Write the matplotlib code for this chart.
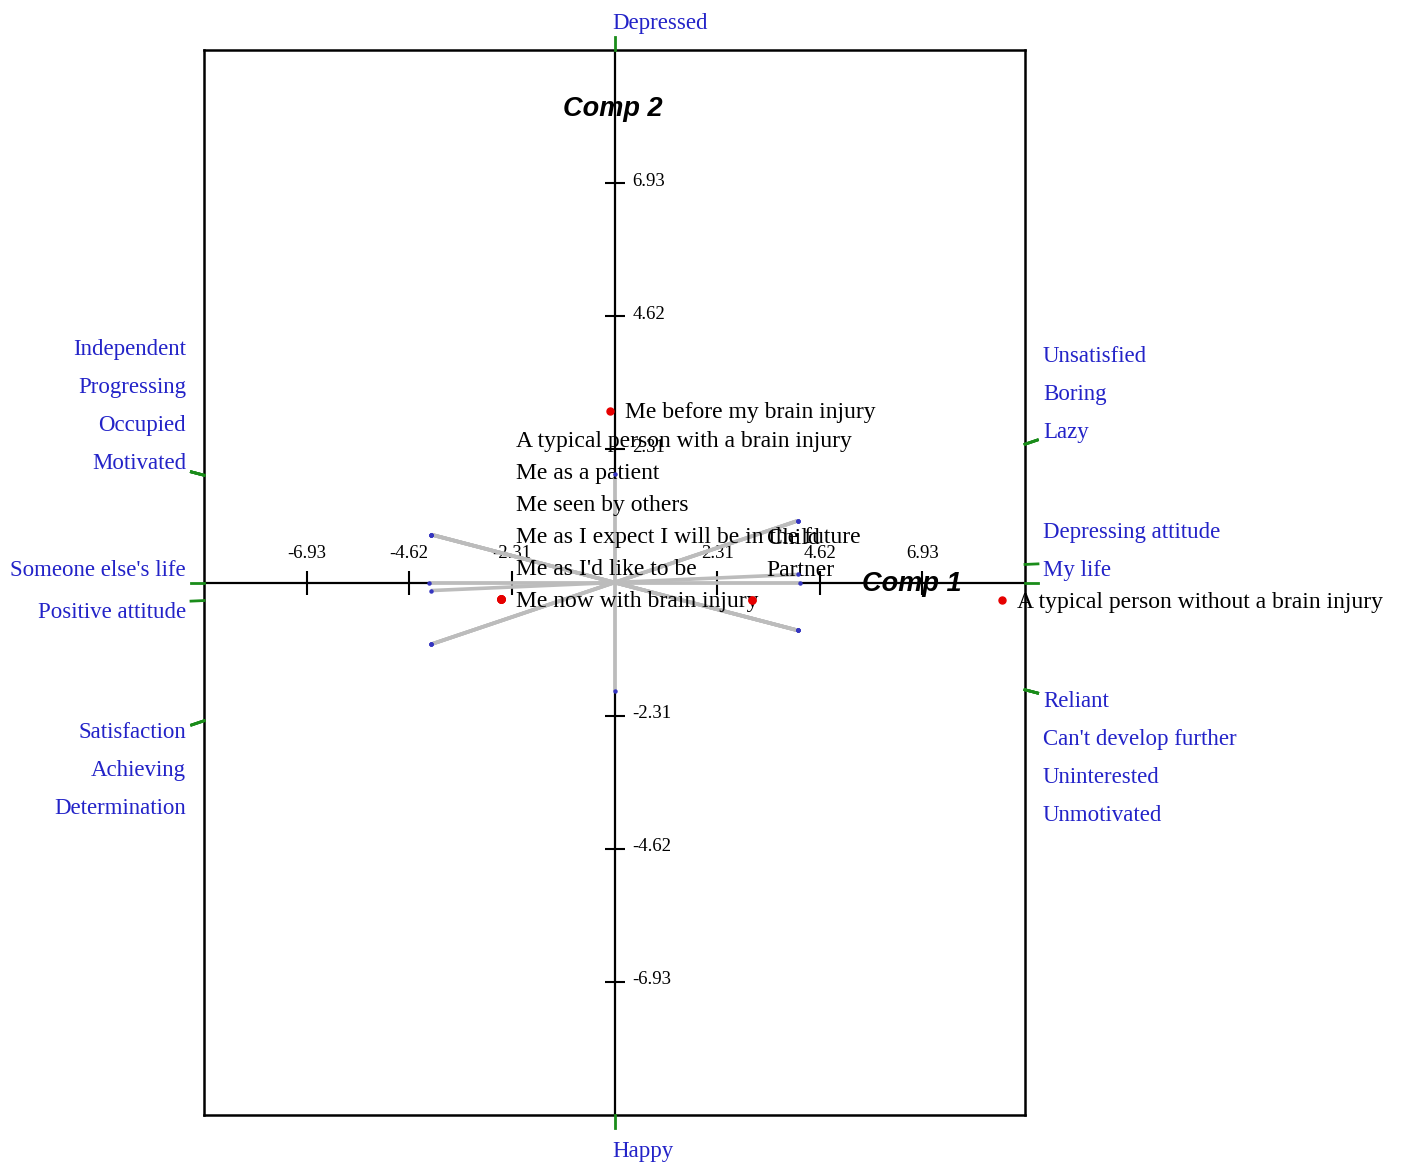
import numpy as np
import matplotlib.pyplot as plt

# elements (red points) and their coordinates on components 1 and 2
elements = ["Me before my brain injury",
            "A typical person with a brain injury",
            "Me as a patient",
            "Me seen by others",
            "Me as I expect I will be in the future",
            "Me as I'd like to be",
            "Me now with brain injury",
            "Child",
            "Partner",
            "A typical person without a brain injury"]
elem_x = [-0.11, -2.56, -2.56, -2.56, -2.56, -2.56, -2.56, 3.09, 3.09, 8.72]
elem_y = [2.98, -0.29, -0.29, -0.29, -0.29, -0.29, -0.29, -0.31, -0.31, -0.31]

# constructs: pole at -vector, pole at +vector, vector end
pole_neg = ["Happy", "Positive attitude", "Someone else's life",
            "Independent", "Progressing", "Occupied", "Motivated",
            "Satisfaction", "Achieving", "Determination"]
pole_pos = ["Depressed", "Depressing attitude", "My life",
            "Reliant", "Can't develop further", "Uninterested", "Unmotivated",
            "Unsatisfied", "Boring", "Lazy"]
con_x = [0.0, 4.13, 4.17, 4.12, 4.12, 4.12, 4.12, 4.12, 4.12, 4.12]
con_y = [1.89, 0.14, 0.0, -0.83, -0.83, -0.83, -0.83, 1.07, 1.07, 1.07]

ticks = [-6.93, -4.62, -2.31, 2.31, 4.62, 6.93]
lim = 9.24

SERIF = "Liberation Serif"
BLUE = "#2323c8"
GREEN = "#1a8c1a"
PT = 0.72  # points per pixel at dpi 100

fig = plt.figure(figsize=(14.05, 11.65), dpi=100)
ax = fig.add_axes([204 / 1405, 50 / 1165, 821 / 1405, 1065 / 1165])
ax.set_xlim(-lim, lim)
ax.set_ylim(-lim, lim)
ax.set_xticks([])
ax.set_yticks([])
for s in ax.spines.values():
    s.set_linewidth(1.8)
    s.set_color("black")

# component axes through the origin
ax.axhline(0, color="black", lw=1.6, zorder=2)
ax.axvline(0, color="black", lw=1.6, zorder=2)
ax.plot(ticks, np.zeros(len(ticks)), ls="none", marker="|", ms=24 * PT,
        mew=1.5, color="black", zorder=2)
ax.plot(np.zeros(len(ticks)), ticks, ls="none", marker="_", ms=20 * PT,
        mew=1.5, color="black", zorder=2)
for t in ticks:
    ax.annotate(f"{t:.2f}", (t, 0), xytext=(0, 29 * PT), textcoords="offset points",
                ha="center", va="center", fontsize=13.5, family=SERIF)
    ax.annotate(f"{t:.2f}", (0, t), xytext=(18 * PT, 2 * PT), textcoords="offset points",
                ha="left", va="center", fontsize=13.5, family=SERIF)

ax.text(0.437, 0.945, "Comp 2", transform=ax.transAxes, fontsize=19.5,
        family="Liberation Sans", weight="bold", style="italic", va="center")
ax.text(0.801, 0.499, "Comp 1", transform=ax.transAxes, fontsize=19.5,
        family="Liberation Sans", weight="bold", style="italic", va="center")

# construct vectors and their poles on the frame
trans = ax.transData
origin = trans.transform((0, 0))
side_labels = {"left": [], "right": []}
for i in range(len(pole_pos)):
    v = np.array([con_x[i], con_y[i]])
    ax.plot([-v[0], v[0]], [-v[1], v[1]], color="#bcbcbc", lw=2.6, zorder=3,
            solid_capstyle="butt")
    ax.plot([-v[0], v[0]], [-v[1], v[1]], ls="none", marker="o", ms=2.2,
            color="#3535c0", zorder=4)
    for sign, name in ((-1, pole_neg[i]), (1, pole_pos[i])):
        d = sign * v
        p = d * lim / np.max(np.abs(d))
        pd = trans.transform(p)
        u = trans.transform(d) - origin
        u = u / np.hypot(*u)
        end = trans.inverted().transform(pd + u * 13)
        ax.plot([p[0], end[0]], [p[1], end[1]], color=GREEN, lw=2,
                clip_on=False, zorder=5)
        if abs(u[1]) > abs(u[0]):
            dy = 27 if u[1] > 0 else -36
            ax.annotate(name, p, xytext=(-2 * PT, dy * PT), textcoords="offset points",
                        ha="left", va="center", fontsize=16.5, family=SERIF,
                        color=BLUE, annotation_clip=False)
        else:
            side_labels["left" if u[0] < 0 else "right"].append((pd[1], i, name, p))

# stack pole labels away from the horizontal axis so they do not overlap
row = 38
for side, items in side_labels.items():
    ha = "right" if side == "left" else "left"
    dx = -18 if side == "left" else 18
    upper = sorted([it for it in items if it[0] >= origin[1] - 0.5],
                   key=lambda it: (it[0], -it[1]))
    lower = sorted([it for it in items if it[0] < origin[1] - 0.5],
                   key=lambda it: (-it[0], it[1]))
    prev = None
    for ypix, i, name, p in upper:
        want = ypix + 12
        if prev is not None:
            want = max(want, prev + row)
        prev = want
        ax.annotate(name, p, xytext=(dx * PT, (want - ypix) * PT),
                    textcoords="offset points", ha=ha, va="center",
                    fontsize=16.5, family=SERIF, color=BLUE, annotation_clip=False)
    prev = None
    for ypix, i, name, p in lower:
        want = ypix - 12
        if prev is not None:
            want = min(want, prev - row)
        prev = want
        ax.annotate(name, p, xytext=(dx * PT, (want - ypix) * PT),
                    textcoords="offset points", ha=ha, va="center",
                    fontsize=16.5, family=SERIF, color=BLUE, annotation_clip=False)

# elements: red points, labels of coincident points stacked upwards
ax.plot(elem_x, elem_y, ls="none", marker="o", ms=7 * PT, color="#e60000", zorder=6)
groups = []
for i in range(len(elements)):
    key = (elem_x[i], elem_y[i])
    for g in groups:
        if g[0] == key:
            g[1].append(i)
            break
    else:
        groups.append((key, [i]))

renderer = fig.canvas.get_renderer()
placed = []
erow = 32
for key, idx in groups:
    start = 0
    while True:
        t = ax.annotate(elements[idx[-1]], key, xytext=(15 * PT, (start * erow - 2) * PT),
                        textcoords="offset points", ha="left", va="center",
                        fontsize=17, family=SERIF, annotation_clip=False)
        bb = t.get_window_extent(renderer).expanded(1.0, 0.8)
        hit = any(bb.x0 - 20 < o.x1 and o.x0 < bb.x1 and bb.y0 < o.y1 and o.y0 < bb.y1
                  for o in placed)
        if hit and start < 5:
            t.remove()
            start += 1
        else:
            break
    placed.append(t.get_window_extent(renderer))
    for k, j in enumerate(reversed(idx[:-1]), start=1):
        t = ax.annotate(elements[j], key, xytext=(15 * PT, ((start + k) * erow - 2) * PT),
                        textcoords="offset points", ha="left", va="center",
                        fontsize=17, family=SERIF, annotation_clip=False)
        placed.append(t.get_window_extent(renderer))

fig.savefig("out.png", dpi=100)
